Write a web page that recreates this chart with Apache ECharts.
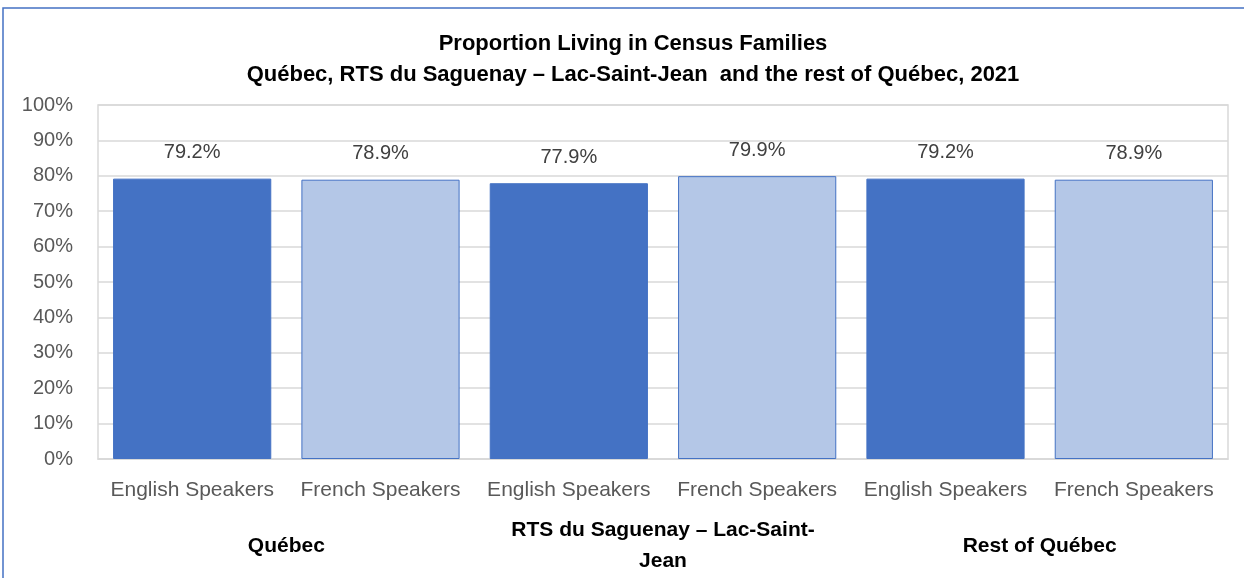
<!DOCTYPE html>
<html><head><meta charset="utf-8">
<script src="https://cdn.jsdelivr.net/npm/echarts@6/dist/echarts.min.js"></script>
<style>html,body{margin:0;padding:0;background:#fff}#c{width:1244px;height:578px}</style>
</head><body><div id="c"></div>
<script>
const titleLines = ['Proportion Living in Census Families', 'Québec, RTS du Saguenay – Lac-Saint-Jean  and the rest of Québec, 2021'];
const groups = ['Québec', 'RTS du Saguenay – Lac-Saint-Jean', 'Rest of Québec'];
const speakers = ['English Speakers', 'French Speakers', 'English Speakers', 'French Speakers', 'English Speakers', 'French Speakers'];
const values = [79.2, 78.9, 77.9, 79.9, 79.2, 78.9];
const colors = ['#4472C4', '#B4C7E7'];
const FONT = "'Liberation Sans', Arial, sans-serif";

const chart = echarts.init(document.getElementById('c'), null, {renderer: 'canvas'});
chart.setOption({
  animation: false,
  textStyle: {fontFamily: FONT},
  title: {
    text: titleLines.join('\n'), left: 628, top: 23, textAlign: 'center',
    textStyle: {fontFamily: FONT, fontSize: 22, fontWeight: 'bold', color: '#000', lineHeight: 31}
  },
  graphic: [{type: 'rect', shape: {x: 3, y: 8, width: 1400, height: 800}, style: {fill: 'none', stroke: '#4472C4', lineWidth: 1.5}, silent: true}],
  grid: {left: 98, right: 16, top: 105, bottom: 119, show: true, borderColor: '#D9D9D9', borderWidth: 1.5, outerBoundsMode: 'none', containLabel: false},
  xAxis: [{
    type: 'category', data: speakers, position: 'bottom',
    axisLine: {lineStyle: {color: '#D9D9D9', width: 1.5}}, axisTick: {show: false},
    axisLabel: {interval: 0, fontSize: 21, color: '#595959', margin: 31, verticalAlign: 'middle', fontFamily: FONT}
  }, {
    type: 'category', data: groups, position: 'bottom', offset: 79,
    axisLine: {show: false}, axisTick: {show: false},
    axisLabel: {interval: 0, fontSize: 21, fontWeight: 'bold', color: '#000', lineHeight: 31, margin: 8, verticalAlign: 'middle', fontFamily: FONT,
      formatter: v => v.replace('Lac-Saint-', 'Lac-Saint-\n')}
  }],
  yAxis: {
    type: 'value', min: 0, max: 100, interval: 10,
    axisLine: {show: false}, axisTick: {show: false},
    splitLine: {lineStyle: {color: '#D9D9D9', width: 1.5}},
    axisLabel: {formatter: '{value}%', fontSize: 20, color: '#595959', margin: 25, fontFamily: FONT}
  },
  series: [{
    type: 'bar', xAxisIndex: 0, barCategoryGap: '16%',
    data: values.map((v, i) => ({value: v, itemStyle: {color: colors[i % 2], borderColor: '#4472C4', borderWidth: 1}})),
    label: {show: true, position: 'top', distance: 16, formatter: p => p.value.toFixed(1) + '%', fontSize: 20, color: '#404040', fontFamily: FONT}
  }]
});
</script></body></html>
